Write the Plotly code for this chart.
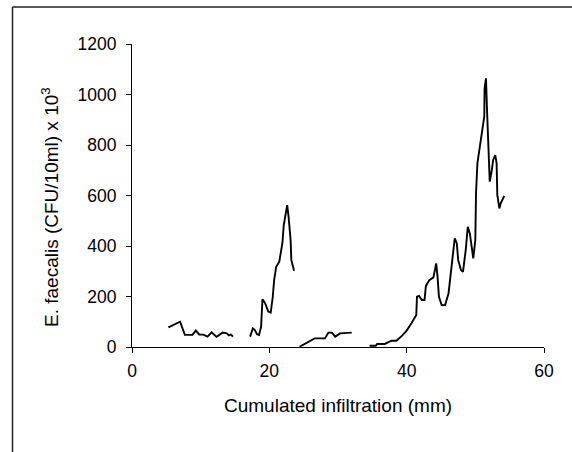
import plotly.graph_objects as go

# Segment 1
x1 = [5.3, 7.0, 7.7, 8.8, 9.3, 9.8, 10.4, 11.0, 11.6, 12.3, 13.2, 13.8, 14.1, 14.4, 14.7]
y1 = [78, 100, 48, 48, 65, 49, 49, 41, 58, 40, 57, 54, 46, 49, 41]
# Segment 2
x2 = [17.2, 17.6, 17.9, 18.2, 18.5, 18.8, 19.0, 19.4, 19.85, 20.2, 20.5, 20.7, 21.0, 21.45,
      21.9, 22.1, 22.4, 22.6, 22.8, 23.1, 23.2, 23.6]
y2 = [41, 74, 67, 51, 48, 80, 189, 173, 140, 136, 199, 265, 318, 338,
      411, 483, 530, 562, 516, 424, 345, 302]
# Segment 3
x3 = [24.4, 25.4, 26.6, 28.1, 28.6, 29.1, 29.6, 30.3, 32.0]
y3 = [1, 15, 34, 34, 57, 57, 41, 54, 57]
# Segment 4
x4 = [34.6, 35.5, 35.7, 36.8, 37.8, 38.5, 39.3, 40.0, 40.7, 41.4, 41.5, 41.8, 42.2, 42.6,
      42.8, 43.3, 43.9, 44.3, 44.5, 44.7, 45.1, 45.6, 46.1, 46.4, 46.7, 47.0, 47.3, 47.5,
      47.9, 48.2, 48.6, 48.9, 49.2, 49.5, 49.7, 50.0, 50.1, 50.3, 50.7, 51.1, 51.3, 51.35,
      51.55, 51.7, 51.9, 52.1, 52.4, 52.6, 52.9, 53.1, 53.2, 53.5, 53.7, 54.2]
y4 = [5, 5, 12, 12, 25, 25, 44, 65, 94, 127, 199, 202, 186, 186,
      242, 265, 276, 331, 278, 199, 166, 166, 213, 285, 358, 430, 411, 345,
      305, 298, 384, 476, 450, 384, 351, 424, 609, 727, 800, 859, 912, 1025,
      1064, 939, 747, 655, 701, 741, 760, 727, 602, 549, 569, 598]

x_ticks = [0, 20, 40, 60]
y_ticks = [0, 200, 400, 600, 800, 1000, 1200]

fig = go.Figure()
for xs, ys in [(x1, y1), (x2, y2), (x3, y3), (x4, y4)]:
    fig.add_trace(go.Scatter(x=xs, y=ys, mode="lines",
                             line=dict(color="black", width=1.9),
                             showlegend=False, hoverinfo="skip"))

fam = "Liberation Sans, Arial, sans-serif"
tick_font = dict(family=fam, size=17.5, color="black")
title_font = dict(family=fam, size=19, color="black")

fig.update_layout(
    width=572, height=452,
    margin=dict(l=132, r=28, t=44, b=105),
    paper_bgcolor="white", plot_bgcolor="white",
    font=tick_font,
    xaxis=dict(range=[0, 60], tickvals=x_ticks, showline=True, linecolor="black",
               linewidth=1, ticks="outside", ticklen=5, tickcolor="black",
               showgrid=False, zeroline=False, ticklabelstandoff=3, tickfont=tick_font),
    yaxis=dict(range=[0, 1200], tickvals=y_ticks, showline=True, linecolor="black",
               linewidth=1, ticks="outside", ticklen=5, tickcolor="black",
               showgrid=False, zeroline=False, ticklabelstandoff=6, tickfont=tick_font),
)

# axis titles
fig.add_annotation(text="Cumulated infiltration (mm)", xref="paper", yref="paper",
                   x=(338 - 132) / 412, y=(347 - 405) / 303, showarrow=False,
                   xanchor="center", yanchor="middle", font=title_font)
fig.add_annotation(text="E. faecalis (CFU/10ml) x 10<sup>3</sup>", xref="paper", yref="paper",
                   x=(50 - 132) / 412, y=(347 - 207) / 303, showarrow=False, textangle=-90,
                   xanchor="center", yanchor="middle", font=title_font)

# frame lines (top and left)
fig.add_shape(type="line", xref="paper", yref="paper",
              x0=(12.5 - 132) / 412, x1=(572 - 132) / 412 + 0.01,
              y0=(347 - 7) / 303, y1=(347 - 7) / 303,
              line=dict(color="#222222", width=1.5))
fig.add_shape(type="line", xref="paper", yref="paper",
              x0=(12.5 - 132) / 412, x1=(12.5 - 132) / 412,
              y0=(347 - 7) / 303, y1=(347 - 460) / 303,
              line=dict(color="#222222", width=1.5))

fig.write_html("out.html")
